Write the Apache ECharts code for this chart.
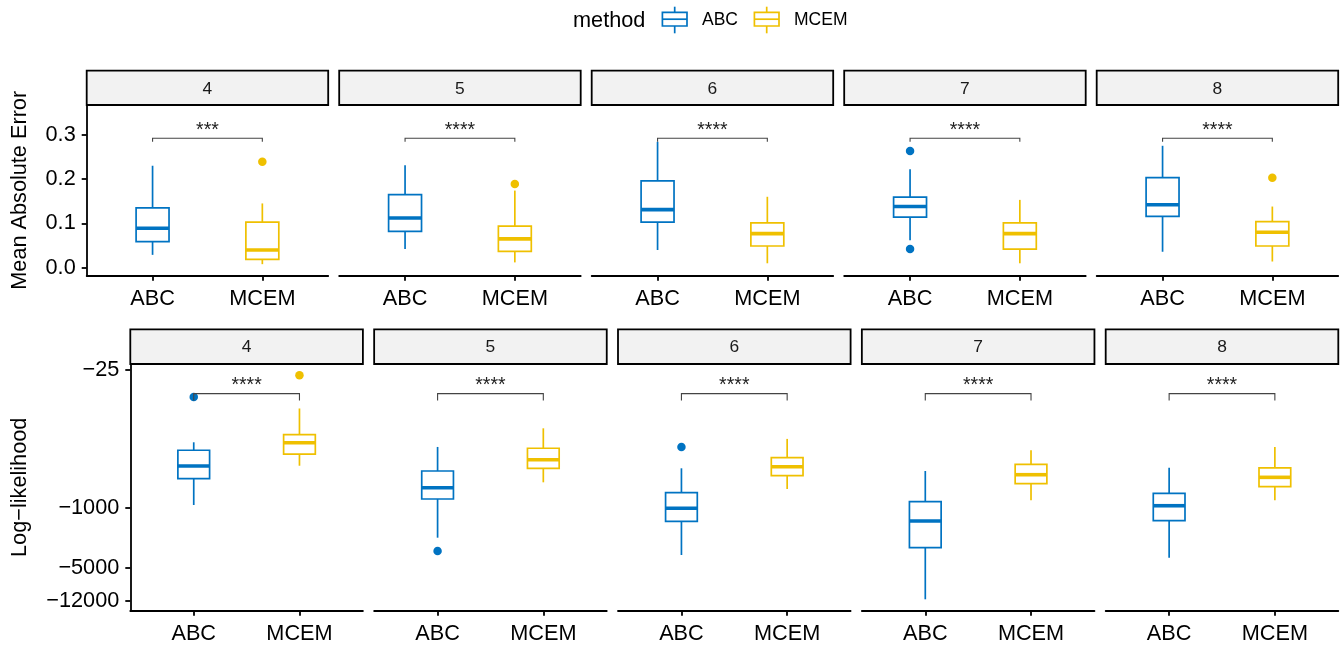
<!DOCTYPE html>
<html><head><meta charset="utf-8">
<script src="https://cdn.jsdelivr.net/npm/echarts@6/dist/echarts.min.js"></script>
<style>html,body{margin:0;padding:0;background:#fff}#c{width:1343px;height:648px}</style>
</head><body><div id="c"></div>
<script>
// ---------- data ----------
const panels = ['4', '5', '6', '7', '8'];
const methods = ['ABC', 'MCEM'];
// box stats: [min, q1, median, q3, max]
const maeABC = [
  [0.029, 0.059, 0.089, 0.135, 0.230],
  [0.042, 0.082, 0.112, 0.165, 0.231],
  [0.040, 0.103, 0.131, 0.196, 0.284],
  [0.062, 0.114, 0.138, 0.159, 0.222],
  [0.036, 0.116, 0.142, 0.203, 0.275]
];
const maeMCEM = [
  [0.008, 0.019, 0.040, 0.103, 0.145],
  [0.012, 0.037, 0.065, 0.094, 0.174],
  [0.010, 0.049, 0.077, 0.101, 0.160],
  [0.010, 0.042, 0.077, 0.101, 0.153],
  [0.014, 0.049, 0.080, 0.104, 0.138]
];
const maeOutABC = [[], [], [], [0.263, 0.042], []];
const maeOutMCEM = [[0.239], [0.189], [], [], [0.203]];
const llABC = [
  [-927, -458, -326, -214, -173],
  [-2223, -789, -583, -373, -196],
  [-3533, -1434, -1012, -667, -347],
  [-11560, -2906, -1422, -848, -373],
  [-3796, -1411, -945, -679, -342]
];
const llMCEM = [
  [-324, -237, -175, -141, -70],
  [-505, -347, -276, -203, -119],
  [-604, -423, -333, -261, -158],
  [-817, -524, -412, -312, -214],
  [-817, -567, -442, -344, -196]
];
const llOutABC = [[-51.5], [-3174], [-196], [], []];
const llOutMCEM = [[-28.8], [], [], [], []];
const maeSig = ['***', '****', '****', '****', '****'];
const llSig = ['****', '****', '****', '****', '****'];
const maeBracket = 0.292;
const llBracket = -47;
const maeTicks = [0, 0.1, 0.2, 0.3];
const llTicks = [-25, -1000, -5000, -12000];

// ---------- style / layout ----------
const COLORS = ['#0073C2', '#EFC000'];
const FONT = '"Liberation Sans", Arial, Helvetica, sans-serif';
const tf = v => Math.log10(-v);   // log-likelihood transform (axis reversed)

const rows = [
  { left0: 86.7, pitch: 252.5, width: 241.5, top: 105, height: 170.7, stripTop: 70.7, tip: 3.5,
    ymin: -0.018, ymax: 0.367, inverse: false },
  { left0: 130.3, pitch: 243.85, width: 232.6, top: 364, height: 246.7, stripTop: 329.3, tip: 7,
    ymin: 1.3282, ymax: 4.1954, inverse: true }
];

const grids = [], xAxes = [], yAxes = [], series = [], graphics = [];

function boxRender(color) {
  return function (params, api) {
    const x = api.value(0);
    const c = [1, 2, 3, 4, 5].map(i => api.coord([x, api.value(i)]));
    const xl = api.coord([x - 0.15, api.value(3)])[0];
    const xr = api.coord([x + 0.15, api.value(3)])[0];
    const cx = c[0][0];
    const yMin = c[0][1], q1 = c[1][1], med = c[2][1], q3 = c[3][1], yMax = c[4][1];
    const st = { stroke: color, lineWidth: 1.7, fill: null };
    return {
      type: 'group', children: [
        { type: 'line', shape: { x1: cx, y1: yMin, x2: cx, y2: q1 }, style: st },
        { type: 'line', shape: { x1: cx, y1: q3, x2: cx, y2: yMax }, style: st },
        { type: 'rect', shape: { x: xl, y: Math.min(q1, q3), width: xr - xl, height: Math.abs(q1 - q3) },
          style: { stroke: color, lineWidth: 1.7, fill: '#fff' } },
        { type: 'line', shape: { x1: xl, y1: med, x2: xr, y2: med }, style: { stroke: color, lineWidth: 3.6 } }
      ]
    };
  };
}

function bracketRender(tip, lab) {
  return function (params, api) {
    const a = api.coord([api.value(0), api.value(2)]);
    const b = api.coord([api.value(1), api.value(2)]);
    const st = { stroke: '#444', lineWidth: 1.1, fill: null };
    return {
      type: 'group', children: [
        { type: 'polyline', shape: { points: [[a[0], a[1] + tip], [a[0], a[1]], [b[0], b[1]], [b[0], b[1] + tip]] }, style: st },
        { type: 'text', style: { text: lab, x: (a[0] + b[0]) / 2, y: a[1] - 8, align: 'center', verticalAlign: 'middle',
          fill: '#222', fontSize: 19.5, fontFamily: FONT } }
      ]
    };
  };
}

rows.forEach((r, ri) => {
  panels.forEach((p, pi) => {
    const gi = ri * 5 + pi;
    const left = r.left0 + pi * r.pitch;
    grids.push({ left: left, top: r.top, width: r.width, height: r.height });
    xAxes.push({
      gridIndex: gi, type: 'value', min: 0.4, max: 2.6,
      axisLine: { show: true, onZero: false, lineStyle: { color: '#000', width: 1.8 } },
      axisTick: { show: true, customValues: [1, 2], length: 5, lineStyle: { color: '#000', width: 1.8 } },
      axisLabel: { customValues: [1, 2], formatter: v => methods[Math.round(v) - 1], fontSize: 21.7, color: '#000',
        fontFamily: FONT, margin: 12 },
      splitLine: { show: false }
    });
    const first = pi === 0;
    const yTicks = ri === 0 ? maeTicks : llTicks.map(tf);
    yAxes.push({
      gridIndex: gi, type: 'value', min: r.ymin, max: r.ymax, inverse: r.inverse,
      axisLine: { show: first, lineStyle: { color: '#000', width: 1.8 } },
      axisTick: { show: first, customValues: yTicks, length: 5, lineStyle: { color: '#000', width: 1.8 } },
      axisLabel: { show: first, customValues: yTicks, fontSize: 21.7, color: '#000', fontFamily: FONT, margin: 11,
        formatter: ri === 0 ? (v => v.toFixed(1)) : (v => '\u2212' + Math.round(Math.pow(10, v))) },
      splitLine: { show: false }
    });
    const statsA = ri === 0 ? maeABC[pi] : llABC[pi].map(tf);
    const statsM = ri === 0 ? maeMCEM[pi] : llMCEM[pi].map(tf);
    const outA = ri === 0 ? maeOutABC[pi] : llOutABC[pi].map(tf);
    const outM = ri === 0 ? maeOutMCEM[pi] : llOutMCEM[pi].map(tf);
    [[statsA, outA], [statsM, outM]].forEach(([stats, outs], mi) => {
      series.push({
        type: 'custom', name: methods[mi], xAxisIndex: gi, yAxisIndex: gi,
        renderItem: boxRender(COLORS[mi]),
        encode: { x: 0, y: [1, 2, 3, 4, 5] },
        data: [[mi + 1].concat(stats)], z: 3
      });
      series.push({
        type: 'scatter', name: methods[mi], xAxisIndex: gi, yAxisIndex: gi,
        symbolSize: 8.5, itemStyle: { color: COLORS[mi], opacity: 1 },
        data: outs.map(v => [mi + 1, v]), z: 4
      });
    });
    const by = ri === 0 ? maeBracket : tf(llBracket);
    series.push({
      type: 'custom', xAxisIndex: gi, yAxisIndex: gi,
      renderItem: bracketRender(r.tip, ri === 0 ? maeSig[pi] : llSig[pi]),
      encode: { x: [0, 1], y: 2 },
      data: [[1, 2, by]], z: 5, clip: false
    });
    // facet strip
    graphics.push({ type: 'rect', shape: { x: left, y: r.stripTop, width: r.width, height: r.top - r.stripTop },
      style: { fill: '#F2F2F2', stroke: '#000', lineWidth: 1.8 }, z: 10 });
    graphics.push({ type: 'text', x: left + r.width / 2, y: (r.stripTop + r.top) / 2 + 1,
      style: { text: p, align: 'center', verticalAlign: 'middle', fill: '#1A1A1A', fontSize: 17.4, fontFamily: FONT }, z: 11 });
  });
});

// axis titles
graphics.push({ type: 'text', x: 20, y: 190.3, rotation: Math.PI / 2,
  style: { text: 'Mean Absolute Error', align: 'center', verticalAlign: 'middle', fill: '#000', fontSize: 21.7, fontFamily: FONT } });
graphics.push({ type: 'text', x: 20, y: 487.3, rotation: Math.PI / 2,
  style: { text: 'Log\u2212likelihood', align: 'center', verticalAlign: 'middle', fill: '#000', fontSize: 21.7, fontFamily: FONT } });

// legend
graphics.push({ type: 'text', x: 573, y: 21.5,
  style: { text: 'method', align: 'left', verticalAlign: 'middle', fill: '#000', fontSize: 21.7, fontFamily: FONT } });
const legX = [674.7, 766.7], legTextX = [702, 794];
methods.forEach((m, mi) => {
  const cx = legX[mi], col = COLORS[mi];
  graphics.push({ type: 'line', shape: { x1: cx, y1: 6.7, x2: cx, y2: 33.3 }, style: { stroke: col, lineWidth: 1.7 } });
  graphics.push({ type: 'rect', shape: { x: cx - 12.3, y: 12.3, width: 24.6, height: 13.7 }, style: { stroke: col, lineWidth: 1.7, fill: '#fff' } });
  graphics.push({ type: 'line', shape: { x1: cx - 12.3, y1: 19.2, x2: cx + 12.3, y2: 19.2 }, style: { stroke: col, lineWidth: 1.7 } });
  graphics.push({ type: 'text', x: legTextX[mi], y: 20,
    style: { text: m, align: 'left', verticalAlign: 'middle', fill: '#000', fontSize: 17.5, fontFamily: FONT } });
});

const chart = echarts.init(document.getElementById('c'), null, { renderer: 'canvas' });
chart.setOption({
  animation: false,
  backgroundColor: '#fff',
  grid: grids, xAxis: xAxes, yAxis: yAxes, series: series,
  graphic: { elements: graphics }
});
</script>
</body></html>
